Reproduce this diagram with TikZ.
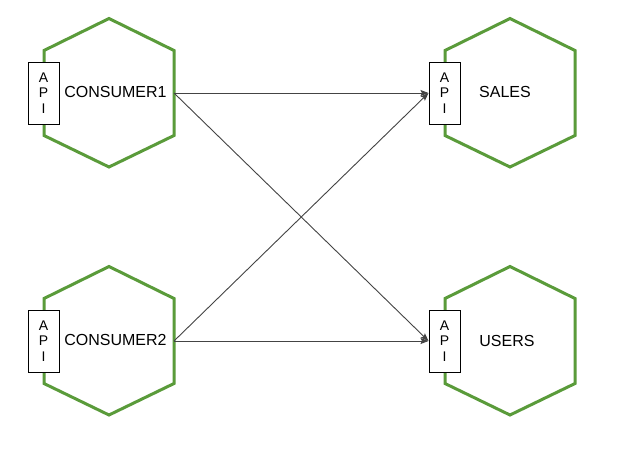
\documentclass[tikz,border=0pt]{standalone}
\usepackage{fontspec}
\setmainfont{Liberation Sans}
\usetikzlibrary{
    positioning,      % For placing nodes relative to each other
    arrows.meta,      % For modern arrow tips
    calc              % For offsets from the hexagon centres
}
\definecolor{hexgreen}{RGB}{90,155,58}
\definecolor{flowgray}{RGB}{68,68,68}

\begin{document}
\begin{tikzpicture}[
    % Global style settings: one unit is one pixel of the drawing
    x=1pt, y=-1pt,
    % Style for the green service hexagons
    hex_style/.style={
        draw=hexgreen,
        line width=3pt,
        line join=miter
    },
    % Style for the small API boxes on the left side of each hexagon
    api_box/.style={
        draw=black,
        fill=white,
        line width=1pt,
        minimum width=31pt,
        minimum height=62pt,
        inner sep=0pt,
        align=center,
        font=\fontsize{14}{15.5}\selectfont
    },
    % Style for the service names
    svc_label/.style={
        font=\fontsize{16}{19}\selectfont,
        inner sep=0pt
    },
    % Style for the calls between services
    flow_arrow/.style={
        draw=flowgray,
        line width=0.9pt,
        -{Stealth[length=8pt, width=6pt, inset=1.5pt]}
    }
]
    \fill[white] (0,0) rectangle (622,451);
    \useasboundingbox (0,0) rectangle (622,451);

    % 1. Hexagons, their API boxes and the points where the calls leave.
    \foreach \nm/\cx/\cy in {consumer1/109/93, consumer2/109/341, sales/510/93, users/510/341}{
        \coordinate (\nm) at (\cx,\cy);
        \draw[hex_style] ($(\nm)+(0,-74.5)$) -- ($(\nm)+(65,-42.5)$) -- ($(\nm)+(65,42.5)$)
            -- ($(\nm)+(0,74)$) -- ($(\nm)+(-65,42.5)$) -- ($(\nm)+(-65,-42.5)$) -- cycle;
        \node[api_box] (\nm_api) at ($(\nm)+(-65.5,0)$) {A\\P\\I};
        \coordinate (\nm_east) at ($(\nm)+(65,0)$);
    }

    % 2. The service names.
    \node[svc_label] (consumer1_label) at (115.5,92) {CONSUMER1};
    \node[svc_label] (consumer2_label) at (115.5,340) {CONSUMER2};
    \node[svc_label] (sales_label) at (505,92) {SALES};
    \node[svc_label] (users_label) at (507,341) {USERS};

    % 3. Every consumer calls both services.
    \draw[flow_arrow] (consumer1_east) -- (sales_api.west);
    \draw[flow_arrow] (consumer1_east) -- (users_api.west);
    \draw[flow_arrow] (consumer2_east) -- (sales_api.west);
    \draw[flow_arrow] (consumer2_east) -- (users_api.west);

\end{tikzpicture}
\end{document}
